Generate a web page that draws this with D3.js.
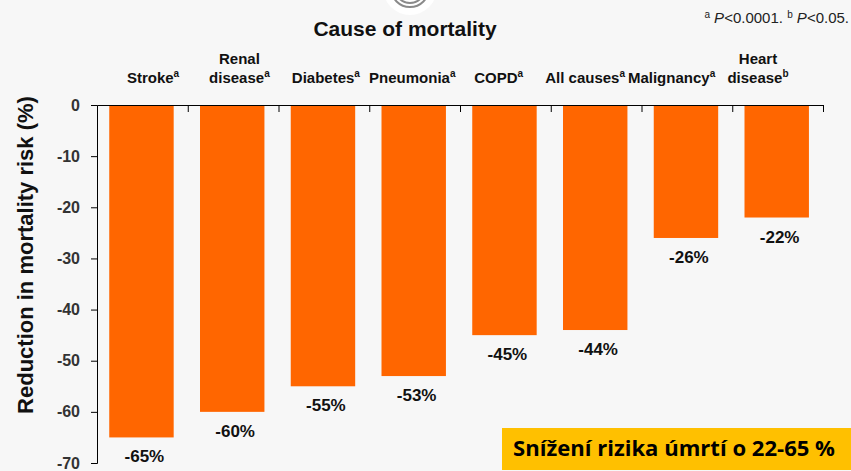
<!DOCTYPE html>
<html>
<head>
<meta charset="utf-8">
<script src="https://cdn.jsdelivr.net/npm/d3@7"></script>
<style>
    body { margin: 0; background: #f7f7f7; }
    svg { display: block; font-family: "Liberation Sans", Arial, sans-serif; }
</style>
</head>
<body>
<svg id="canvas" width="851" height="471"></svg>
<script>
// data
var categories = ['Stroke', 'Renal disease', 'Diabetes', 'Pneumonia', 'COPD', 'All causes', 'Malignancy', 'Heart disease'];
var labelLines = [['Stroke'], ['Renal', 'disease'], ['Diabetes'], ['Pneumonia'], ['COPD'], ['All causes'], ['Malignancy'], ['Heart', 'disease']];
var significance = ['a', 'a', 'a', 'a', 'a', 'a', 'a', 'b'];
var values = [-65, -60, -55, -53, -45, -44, -26, -22];
var yTicks = [0, -10, -20, -30, -40, -50, -60, -70];

(function() {
    var svg = d3.select('#canvas');
    var left = 97, right = 823, top = 105, bottom = 463;

    var x = d3.scaleBand()
        .domain(categories)
        .range([left, right])
        .padding(0);

    // boundaries between categories, for the little ticks on the top axis
    var xEdge = d3.scaleLinear()
        .domain([0, categories.length])
        .range([left, right]);

    // category labels sit on their own evenly spaced grid
    var xLabel = d3.scalePoint()
        .domain(categories)
        .range([153, 758]);

    var y = d3.scaleLinear()
        .domain([0, -70])
        .range([top, bottom]);

    // little logo peeking from the top
    var logo = svg.append('g');
    logo.append('circle')
        .attr('cx', 410).attr('cy', -12).attr('r', 27)
        .attr('fill', '#ffffff');
    logo.append('circle')
        .attr('cx', 410).attr('cy', -12).attr('r', 19)
        .attr('fill', 'none').attr('stroke', '#8a8a8a').attr('stroke-width', 2);
    logo.append('circle')
        .attr('cx', 410).attr('cy', -12).attr('r', 15)
        .attr('fill', 'none').attr('stroke', '#8a8a8a').attr('stroke-width', 2);

    svg.append('text')
        .attr('x', 405)
        .attr('y', 36)
        .attr('text-anchor', 'middle')
        .attr('font-size', '21px')
        .attr('font-weight', 'bold')
        .attr('fill', '#111')
        .text('Cause of mortality');

    // footnote
    var foot = svg.append('text')
        .attr('x', 849)
        .attr('y', 23)
        .attr('text-anchor', 'end')
        .attr('font-size', '15px')
        .attr('fill', '#222');
    foot.append('tspan').attr('font-size', '10px').attr('dy', -5).text('a');
    foot.append('tspan').attr('dy', 5).attr('font-style', 'italic').text(' P');
    foot.append('tspan').text('<0.0001. ');
    foot.append('tspan').attr('font-size', '10px').attr('dy', -5).text('b');
    foot.append('tspan').attr('dy', 5).attr('font-style', 'italic').text(' P');
    foot.append('tspan').text('<0.05.');

    // bars
    svg.append('g')
        .selectAll('rect')
        .data(values)
        .enter().append('rect')
        .attr('x', function(d, i) { return x(categories[i]) + x.bandwidth() * 0.135; })
        .attr('y', y(0))
        .attr('width', x.bandwidth() * 0.71)
        .attr('height', function(d) { return y(d) - y(0); })
        .attr('fill', '#ff6600');

    // value labels
    svg.append('g')
        .selectAll('text')
        .data(values)
        .enter().append('text')
        .attr('x', function(d, i) { return x(categories[i]) + x.bandwidth() / 2 + 2; })
        .attr('y', function(d) { return y(d) + 25; })
        .attr('text-anchor', 'middle')
        .attr('font-size', '17px')
        .attr('font-weight', 'bold')
        .attr('fill', '#111')
        .text(function(d) { return d + '%'; });

    // category labels above the axis
    var lab = svg.append('g')
        .selectAll('text')
        .data(categories)
        .enter().append('text')
        .attr('text-anchor', 'middle')
        .attr('font-size', '15px')
        .attr('font-weight', 'bold')
        .attr('fill', '#111');
    lab.each(function(c, i) {
        var t = d3.select(this);
        var lines = labelLines[i];
        var cx = xLabel(c);
        lines.forEach(function(line, j) {
            t.append('tspan')
                .attr('x', cx)
                .attr('y', 83 - (lines.length - 1 - j) * 19)
                .text(line);
            if (j === lines.length - 1) {
                t.append('tspan')
                    .attr('font-size', '10px')
                    .attr('dy', -6)
                    .text(significance[i]);
            }
        });
    });

    // y axis
    var yAxis = svg.append('g')
        .attr('transform', 'translate(' + left + ',0)')
        .call(d3.axisLeft(y).tickValues(yTicks).tickSize(6).tickPadding(11)
            .tickFormat(function(d) { return String(d); }));
    yAxis.selectAll('text')
        .attr('font-size', '16px')
        .attr('font-weight', 'bold')
        .attr('fill', '#333')
        .style('font-family', '"Liberation Sans", Arial, sans-serif');
    yAxis.select('.domain').attr('stroke', '#000');
    yAxis.selectAll('.tick line').attr('stroke', '#000');

    // top axis with ticks pointing down between categories
    var xAxis = svg.append('g')
        .attr('transform', 'translate(0,' + top + ')')
        .call(d3.axisTop(xEdge).tickValues(d3.range(1, categories.length + 1)).tickSize(-7).tickSizeOuter(0).tickFormat(''));
    xAxis.select('.domain').attr('stroke', '#000');
    xAxis.selectAll('.tick line').attr('stroke', '#000');

    svg.append('text')
        .attr('transform', 'translate(33,255) rotate(-90)')
        .attr('text-anchor', 'middle')
        .attr('font-size', '22px')
        .attr('font-weight', 'bold')
        .attr('fill', '#111')
        .text('Reduction in mortality risk (%)');

    // yellow call-out
    svg.append('rect')
        .attr('x', 502)
        .attr('y', 428)
        .attr('width', 349)
        .attr('height', 42)
        .attr('fill', '#ffc000');
    svg.append('text')
        .attr('x', 513)
        .attr('y', 456)
        .attr('font-family', '"Open Sans", sans-serif')
        .attr('font-size', '22px')
        .attr('font-weight', 'bold')
        .attr('fill', '#000')
        .attr('textLength', 322)
        .attr('lengthAdjust', 'spacingAndGlyphs')
        .text('Snížení rizika úmrtí o 22-65 %');
})();
</script>
</body>
</html>
